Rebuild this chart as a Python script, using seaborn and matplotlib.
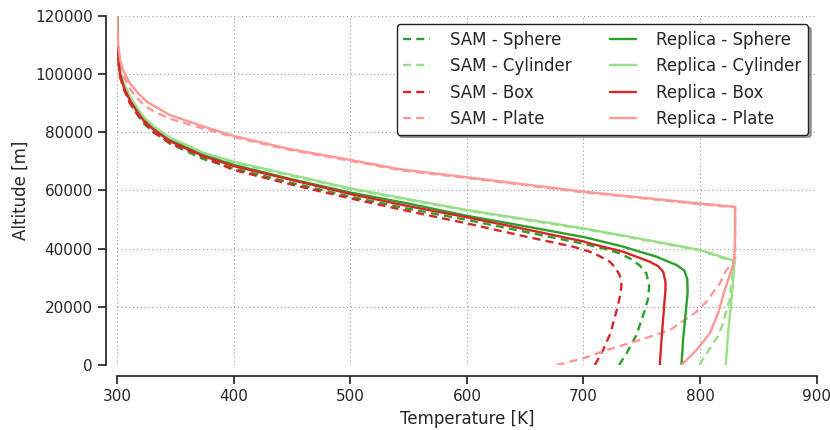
import pandas as pd
import matplotlib
matplotlib.use("Agg")
import matplotlib.pyplot as plt
import seaborn as sns

sns.set_theme(style="ticks", rc={"axes.grid": True, "grid.linestyle": (0, (1, 2.5)),
                                 "grid.color": "#999999", "grid.linewidth": 0.8})
plt.rcParams['font.family'] = ['DejaVu Sans']

# temperature [K] / altitude [m], bottom to top
sam_sphere_T = [730.5, 736.9, 745.4, 752.6, 755.5, 756.3, 754, 748, 739.7, 730, 716.8, 700, 650, 600, 550, 500, 450, 400, 374, 345, 331, 323, 317, 311, 306, 302.8, 301.3, 300.4, 300]
sam_sphere_h = [0, 4000, 10300, 18900, 23000, 27000, 31500, 34300, 36700, 38500, 40100, 41700, 45800, 49900, 53700, 57900, 62600, 67600, 70800, 76200, 80200, 83000, 86300, 90300, 94600, 99000, 104500, 111500, 120000]

sam_cyl_T = [799.7, 801, 811.1, 815, 819.7, 823, 825.4, 827, 829.5, 800, 762.6, 700, 650, 600, 550, 500, 450, 400, 374, 345, 331, 323, 317, 311, 306, 302.6, 301.2, 300.4, 300]
sam_cyl_h = [0, 1100, 7450, 9700, 14300, 19500, 22300, 29200, 35500, 39400, 42200, 46800, 49900, 53100, 56800, 60500, 65000, 69600, 72700, 78000, 82000, 85000, 88300, 92200, 96500, 100800, 105800, 112300, 120000]

sam_box_T = [709.7, 716.8, 723.1, 728.9, 731.5, 732.6, 731, 727, 722.6, 714, 705.4, 691, 650, 600, 550, 500, 450, 400, 362.6, 345, 337, 331, 322, 317, 311, 305.4, 302.6, 301.2, 300.4, 300]
sam_box_h = [0, 5160, 10900, 19500, 24000, 27500, 30950, 33600, 35500, 37400, 38960, 40700, 44200, 48700, 52900, 57300, 62000, 67050, 73500, 76300, 78600, 80000, 84000, 86500, 90000, 95500, 99100, 104000, 111000, 120000]

sam_plate_T = [676.9, 699.7, 719.7, 748.3, 774, 796.9, 805.4, 816.9, 822.6, 829, 830, 830, 800, 700, 600, 542.6, 500, 445, 400, 374, 345, 331, 325, 317, 311, 305, 302.6, 301, 300.3, 300]
sam_plate_h = [0, 2300, 5160, 8600, 12000, 18300, 21800, 28100, 32700, 35500, 37000, 54200, 55300, 59400, 64300, 67000, 70200, 74200, 78400, 81300, 84700, 87300, 88800, 91800, 95000, 99800, 103500, 109000, 114500, 120000]

rep_sphere_T = [784, 785.4, 787.7, 789.3, 789, 786.5, 779.7, 770, 762.6, 748, 734, 705, 700, 650, 600, 550, 500, 445, 400, 374, 345, 331, 323, 317, 311, 306, 302.6, 301.2, 300.4, 300]
rep_sphere_h = [0, 8600, 18200, 25000, 29500, 32500, 34400, 36000, 37250, 39000, 40700, 43560, 44000, 47700, 51300, 55500, 59300, 64300, 68800, 72200, 77400, 81400, 84300, 87700, 91500, 95800, 100400, 105500, 112000, 120000]

rep_cyl_T = [822, 824, 826.9, 828.5, 829.5, 800, 762.6, 700, 650, 600, 550, 500, 450, 400, 374, 345, 331, 323, 317, 311, 306, 302.6, 301.2, 300.4, 300]
rep_cyl_h = [0, 10900, 22300, 30000, 35800, 39550, 42400, 47000, 50150, 53300, 57000, 60750, 65300, 69900, 73000, 78200, 82200, 85200, 88500, 92400, 96700, 101000, 106000, 112500, 120000]

rep_box_T = [765.4, 766.9, 768.9, 770.3, 770.3, 768.3, 764, 756.9, 734, 705, 700, 650, 600, 550, 500, 450, 400, 374, 345, 331, 323, 317, 311, 306, 302.6, 301.2, 300.4, 300]
rep_box_h = [0, 8600, 18900, 26000, 28650, 32100, 34000, 35500, 38960, 41850, 42500, 46700, 50800, 54600, 58800, 63600, 68400, 71800, 77000, 81000, 83900, 87200, 91000, 95300, 100000, 105200, 112000, 120000]

rep_plate_T = [784, 796.9, 808.3, 815.4, 821.1, 824, 828, 829.5, 830, 830, 800, 700, 600, 542.6, 500, 445, 400, 374, 345, 325.4, 318, 311, 305, 302.6, 301, 300.3, 300]
rep_plate_h = [0, 5160, 10900, 17800, 25800, 29200, 34000, 37500, 45000, 54400, 55500, 59600, 64550, 67300, 70500, 74500, 78750, 82000, 86000, 90500, 93500, 96900, 101500, 104900, 110000, 115000, 120000]

labels = ["SAM - Sphere", "SAM - Cylinder", "SAM - Box", "SAM - Plate",
          "Replica - Sphere", "Replica - Cylinder", "Replica - Box", "Replica - Plate"]
colors = ["#2ca02c", "#98df8a", "#d62728", "#ff9896"] * 2
styles = [(0, (3.4, 2.2))] * 4 + ["-"] * 4
temps = [sam_sphere_T, sam_cyl_T, sam_box_T, sam_plate_T,
         rep_sphere_T, rep_cyl_T, rep_box_T, rep_plate_T]
alts = [sam_sphere_h, sam_cyl_h, sam_box_h, sam_plate_h,
        rep_sphere_h, rep_cyl_h, rep_box_h, rep_plate_h]

fig, ax = plt.subplots(figsize=(8.3, 4.3), dpi=100)
fig.subplots_adjust(left=0.141, right=0.984, bottom=0.151, top=0.963)

for T, h, lab, c, ls in zip(temps, alts, labels, colors, styles):
    df = pd.DataFrame({"T": T, "h": h})
    sns.lineplot(data=df, x="T", y="h", sort=False, estimator=None, ax=ax,
                 color=c, linestyle=ls, linewidth=1.7, label=lab)

ax.set_xlim(300, 900)
ax.set_ylim(0, 120000)
ax.set_xticks(range(300, 901, 100))
ax.set_yticks(range(0, 120001, 20000))
ax.tick_params(labelsize=11)
ax.set_xlabel("Temperature [K]", fontsize=12)
ax.set_ylabel("Altitude [m]", fontsize=12)

leg = ax.legend(loc="upper right", ncol=2, fontsize=12, shadow=True,
                frameon=True, framealpha=1, columnspacing=2.3, handlelength=1.6,
                handletextpad=1.2, labelspacing=0.5)
leg.get_frame().set_edgecolor("#222222")

sns.despine(ax=ax, offset=8, trim=True)
fig.savefig("out.png", dpi=100)
